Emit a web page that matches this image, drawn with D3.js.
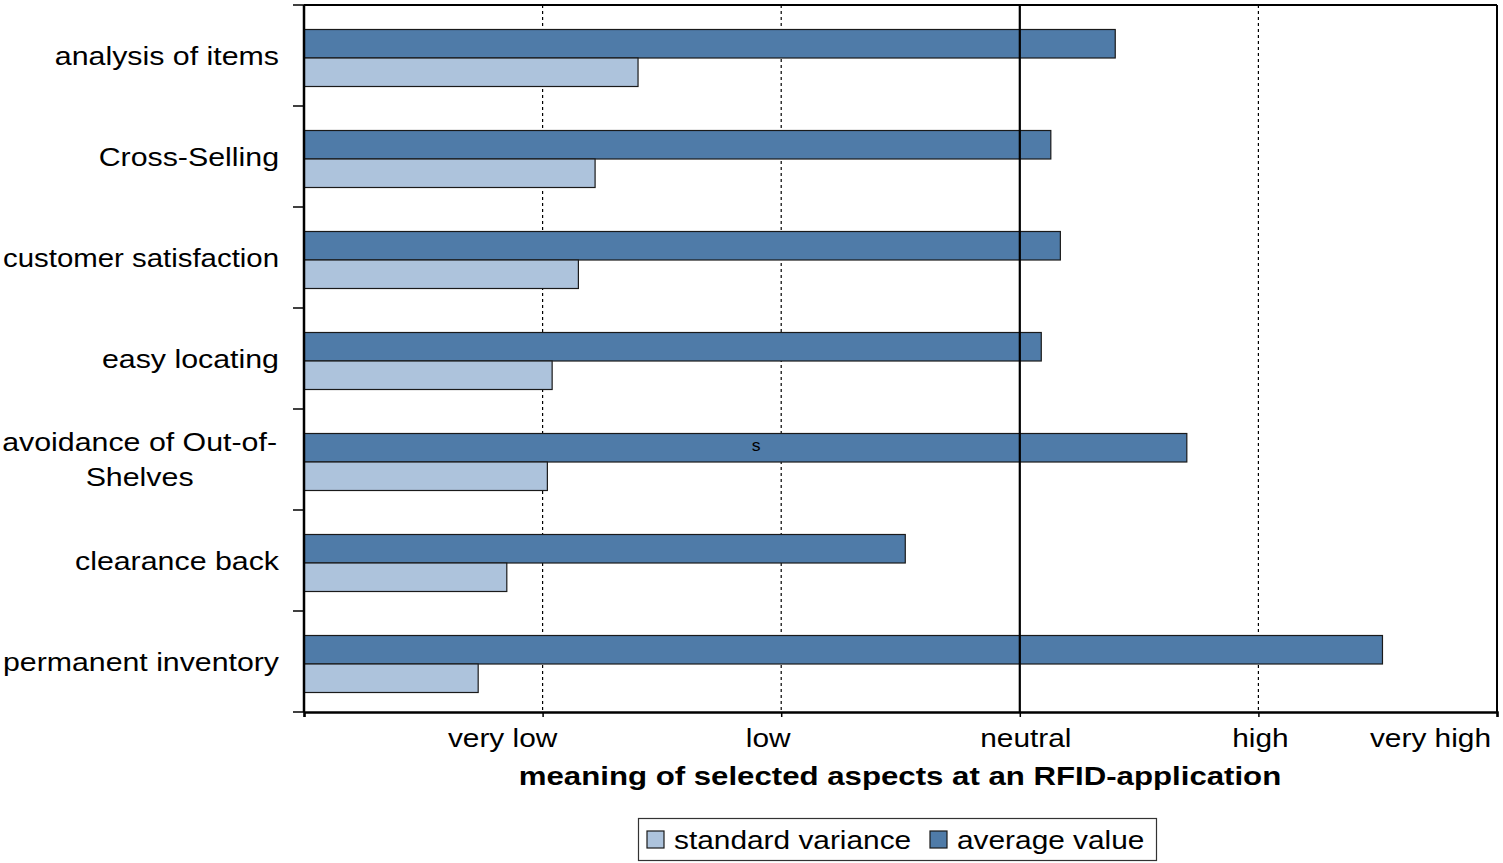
<!DOCTYPE html>
<html>
<head>
<meta charset="utf-8">
<script src="https://cdn.jsdelivr.net/npm/d3@7"></script>
<style>
  html, body { margin: 0; padding: 0; background: #fff; }
  svg { display: block; font-family: "Liberation Sans", Arial, sans-serif; }
</style>
</head>
<body>
<svg id="chart" width="1503" height="863"></svg>
<script>
// ---- data ----
const categories = ["analysis of items", "Cross-Selling", "customer satisfaction", "easy locating", "avoidance of Out-of-Shelves", "clearance back", "permanent inventory"];
const categoryLines = [["analysis of items"], ["Cross-Selling"], ["customer satisfaction"], ["easy locating"], ["avoidance of Out-of-", "Shelves"], ["clearance back"], ["permanent inventory"]];
const averageValue = [3.40, 3.13, 3.17, 3.09, 3.70, 2.52, 4.52];
const standardVariance = [1.40, 1.22, 1.15, 1.04, 1.02, 0.85, 0.73];
const seriesNames = ["average value", "standard variance"];
const legendOrder = ["standard variance", "average value"];
const tickValues = [1, 2, 3, 4, 5];
const tickLabels = ["very low", "low", "neutral", "high", "very high"];
const xTitle = "meaning of selected aspects at an RFID-application";

const colors = { "average value": "#4f7ba8", "standard variance": "#adc3dc" };

const svg = d3.select("#chart");
const M = { left: 304, right: 1497, top: 5, bottom: 712 };

function addText(g, x, y, str, anchor, size, weight, sx) {
  return g.append("text")
    .attr("transform", `translate(${x},${y}) scale(${sx || 1.17},1)`)
    .attr("text-anchor", anchor)
    .attr("font-size", size)
    .attr("font-weight", weight || "normal")
    .attr("fill", "#000")
    .text(str);
}

const x = d3.scaleLinear().domain([0, 5]).range([M.left, M.right]);
const y = d3.scaleBand().domain(categories).range([M.top, M.bottom]).padding(0);
const ySub = d3.scaleBand().domain(seriesNames).range([24.5, 81.5]).padding(0);

const data = categories.map((c, i) => ({
  cat: c,
  values: [
    { s: "average value", v: averageValue[i] },
    { s: "standard variance", v: standardVariance[i] }
  ]
}));

// grid lines
const gridTicks = [1, 2, 4];
svg.append("g").selectAll("line").data(gridTicks).join("line")
  .attr("x1", d => x(d)).attr("x2", d => x(d))
  .attr("y1", M.top).attr("y2", M.bottom)
  .attr("stroke", "#000").attr("stroke-width", 1.2)
  .attr("stroke-dasharray", "3,3");

// bars
const groups = svg.append("g").selectAll("g").data(data).join("g")
  .attr("transform", d => `translate(0,${y(d.cat)})`);
groups.selectAll("rect").data(d => d.values).join("rect")
  .attr("x", x(0))
  .attr("y", d => ySub(d.s))
  .attr("width", d => x(d.v) - x(0))
  .attr("height", ySub.bandwidth())
  .attr("fill", d => colors[d.s])
  .attr("stroke", "#1a1a1a")
  .attr("stroke-width", 1.2);

// neutral line
svg.append("line")
  .attr("x1", x(3)).attr("x2", x(3))
  .attr("y1", M.top).attr("y2", M.bottom)
  .attr("stroke", "#000").attr("stroke-width", 2.2);

// stray label inside bar
addText(svg, x(1.895), y(categories[4]) + ySub("average value") + ySub.bandwidth() / 2 + 3, "s", "middle", 16, "normal", 1.1);

// frame
svg.append("line").attr("x1", M.left).attr("x2", M.right).attr("y1", M.top).attr("y2", M.top)
  .attr("stroke", "#000").attr("stroke-width", 2);
svg.append("line").attr("x1", M.right).attr("x2", M.right).attr("y1", M.top).attr("y2", M.bottom)
  .attr("stroke", "#000").attr("stroke-width", 2);

// x axis
const xAxis = d3.axisBottom(x).tickValues([0, 1, 2, 3, 4, 5]).tickSize(5).tickFormat("");
const gx = svg.append("g").attr("transform", `translate(0,${M.bottom})`).call(xAxis);
gx.select(".domain").attr("stroke", "#000").attr("stroke-width", 2.5);
gx.selectAll(".tick line").attr("stroke", "#000").attr("stroke-width", 1.5);

// y axis (left) ticks at band boundaries
const yBoundaries = categories.map(c => y(c)).concat([M.bottom]);
svg.append("g").selectAll("line").data(yBoundaries).join("line")
  .attr("x1", M.left - 11).attr("x2", M.left)
  .attr("y1", d => d).attr("y2", d => d)
  .attr("stroke", "#000").attr("stroke-width", 1.5);
svg.append("line").attr("x1", M.left).attr("x2", M.left).attr("y1", M.top).attr("y2", M.bottom)
  .attr("stroke", "#000").attr("stroke-width", 2.5);

// x tick labels
const labelDx = [-40, -13, 6, 2, 0];
const xl = svg.append("g");
tickValues.forEach((t, i) => {
  const last = i === tickValues.length - 1;
  addText(xl, last ? x(t) - 6 : x(t) + labelDx[i], 747, tickLabels[i], last ? "end" : "middle", 25.5);
});

// x title
addText(svg, 900, 785, xTitle, "middle", 26, "bold", 1.2);

// category labels
const cl = svg.append("g");
const CSX = 1.19;
const maxLabelW = 276;
categories.forEach((c, i) => {
  const lines = categoryLines[i];
  const cy = y(c) + y.bandwidth() / 2;
  if (lines.length === 1) {
    const t = addText(cl, 279, cy + 9, lines[0], "end", 25.5, "normal", CSX);
    const raw = t.node().getComputedTextLength();
    if (raw * CSX > maxLabelW) {
      t.attr("transform", `translate(279,${cy + 9}) scale(${maxLabelW / raw},1)`);
    }
  } else {
    const first = addText(cl, 277, cy - 17.5 + 9, lines[0], "end", 25.5, "normal", CSX);
    const w = first.node().getComputedTextLength() * CSX;
    addText(cl, 277 - w / 2, cy + 17.5 + 9, lines[1], "middle", 25.5, "normal", CSX);
  }
});

// legend
const lg = svg.append("g");
lg.append("rect").attr("x", 638.5).attr("y", 818.5).attr("width", 518).attr("height", 42)
  .attr("fill", "#fff").attr("stroke", "#333").attr("stroke-width", 1.2);
const legendX = [647, 930];
legendOrder.forEach((s, i) => {
  lg.append("rect").attr("x", legendX[i]).attr("y", 831).attr("width", 17).attr("height", 17)
    .attr("fill", colors[s]).attr("stroke", "#1a1a1a").attr("stroke-width", 1.2);
  addText(lg, legendX[i] + 27, 849, s, "start", 25.5);
});
</script>
</body>
</html>
